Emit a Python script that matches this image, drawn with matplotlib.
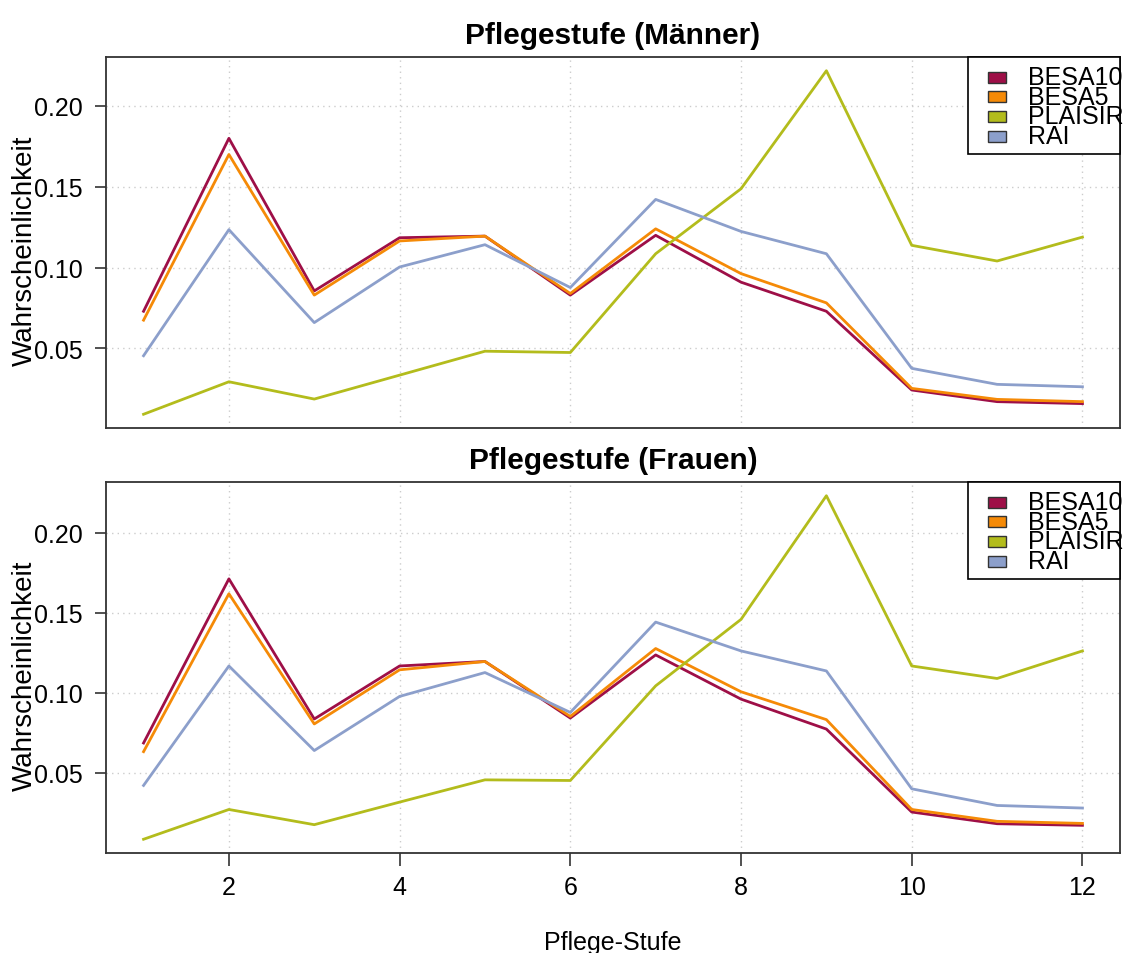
import matplotlib
matplotlib.use("Agg")
import matplotlib.pyplot as plt
from matplotlib.patches import Rectangle

plt.rcParams['font.family'] = ['Liberation Sans', 'DejaVu Sans']

stufen = list(range(1, 13))
systeme = ["BESA10", "BESA5", "PLAISIR", "RAI"]
farben = ["#9E0F47", "#F58A07", "#B3BC1C", "#8C9FCB"]

# Männer
m_besa10 = [0.073, 0.180, 0.0856, 0.1185, 0.1195, 0.083, 0.120, 0.091, 0.073, 0.0243, 0.0171, 0.0159]
m_besa5 = [0.0675, 0.170, 0.083, 0.1165, 0.1195, 0.084, 0.124, 0.0963, 0.0782, 0.0253, 0.0185, 0.0171]
m_plaisir = [0.0093, 0.0294, 0.0187, 0.0335, 0.0483, 0.0475, 0.1086, 0.1488, 0.2218, 0.1138, 0.1041, 0.1189]
m_rai = [0.0455, 0.1235, 0.066, 0.1004, 0.1142, 0.0877, 0.1422, 0.1224, 0.1086, 0.0377, 0.0278, 0.0263]

# Frauen
f_besa10 = [0.0686, 0.1711, 0.0836, 0.1167, 0.1195, 0.0842, 0.1236, 0.096, 0.0773, 0.0255, 0.0182, 0.0172]
f_besa5 = [0.0632, 0.1618, 0.0805, 0.1143, 0.1195, 0.0852, 0.1276, 0.1006, 0.0832, 0.0271, 0.0197, 0.0184]
f_plaisir = [0.0085, 0.0271, 0.0176, 0.0317, 0.0456, 0.0452, 0.1043, 0.1458, 0.223, 0.1167, 0.1089, 0.1261]
f_rai = [0.0421, 0.1167, 0.0639, 0.0977, 0.1126, 0.0877, 0.1441, 0.1261, 0.1136, 0.040, 0.0296, 0.028]

W, H = 1128, 954
fig = plt.figure(figsize=(W / 100, H / 100), dpi=100)


def add_panel(top_px, bottom_px):
    left, right = 106, 1120
    return fig.add_axes([left / W, 1 - bottom_px / H, (right - left) / W, (bottom_px - top_px) / H])


def draw_legend(ax):
    # R-style legend box in the top right corner (pixel offsets inside the axes)
    aw, ah = 1014, 371
    box = Rectangle((862 / aw, 1 - 97 / ah), 152 / aw, 97 / ah, transform=ax.transAxes,
                    facecolor="white", edgecolor="black", lw=1.2, zorder=5, clip_on=False)
    ax.add_patch(box)
    for i, (name, col) in enumerate(zip(systeme, farben)):
        yc = 1 - (20 + i * 19.7) / ah
        ax.add_patch(Rectangle((882 / aw, yc - 5.5 / ah), 18 / aw, 11 / ah, transform=ax.transAxes,
                               facecolor=col, edgecolor="#333333", lw=1.0, zorder=6, clip_on=False))
        ax.text(922 / aw, yc, name, transform=ax.transAxes, fontsize=18, va="center", ha="left",
                zorder=7, clip_on=False)


def panel(ax, serien, titel, unten):
    for werte, col in zip(serien, farben):
        ax.plot(stufen, werte, color=col, lw=2.0, zorder=3)
    alle = [v for s in serien for v in s]
    lo, hi = min(alle), max(alle)
    r = hi - lo
    ax.set_ylim(lo - 0.04 * r, hi + 0.04 * r)
    ax.set_xlim(1 - 0.04 * 11, 12 + 0.04 * 11)
    ax.set_xticks(range(2, 13, 2))
    ax.set_yticks([0.05, 0.10, 0.15, 0.20])
    ax.set_yticklabels(["0.05", "0.10", "0.15", "0.20"])
    ax.grid(True, linestyle=(0, (1, 3)), color="#CCCCCC", lw=1.0, zorder=0)
    for sp in ax.spines.values():
        sp.set_color("#333333")
        sp.set_linewidth(1.3)
    ax.tick_params(axis="y", direction="out", length=8, width=1.2, color="#333333",
                   labelsize=18, pad=9)
    if unten:
        ax.tick_params(axis="x", direction="out", length=9, width=1.2, color="#333333",
                       labelsize=18, pad=7)
        ax.set_xlabel("Pflege-Stufe", fontsize=18, labelpad=22)
    else:
        ax.tick_params(axis="x", length=0, labelbottom=False)
    ax.set_title(titel, fontsize=21.5, fontweight="bold", pad=10)
    ax.set_ylabel("Wahrscheinlichkeit", fontsize=20)
    ax.yaxis.set_label_coords(-0.067, 0.48)
    draw_legend(ax)


ax1 = add_panel(58, 429)
ax2 = add_panel(483, 854)
panel(ax1, [m_besa10, m_besa5, m_plaisir, m_rai], "Pflegestufe (Männer)", False)
panel(ax2, [f_besa10, f_besa5, f_plaisir, f_rai], "Pflegestufe (Frauen)", True)

fig.savefig("out.png", dpi=100)
